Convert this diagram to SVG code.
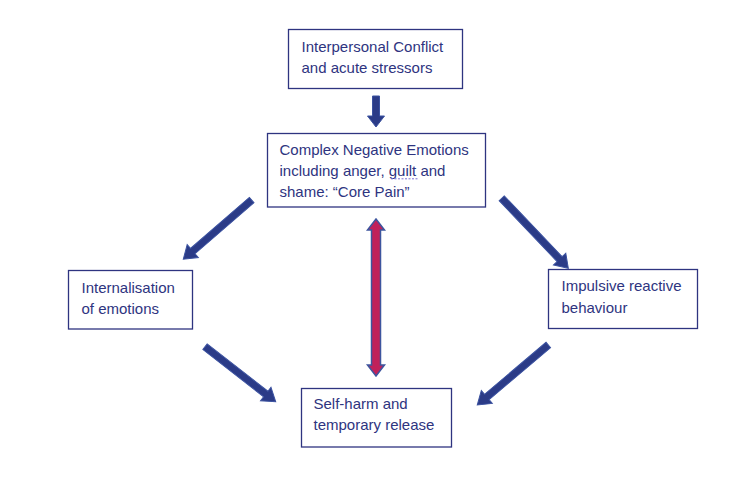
<svg xmlns="http://www.w3.org/2000/svg" width="755" height="486" viewBox="0 0 755 486">
<style>
  .box { fill: #ffffff; stroke: #2e3480; stroke-width: 1.3; }
  .lbl { font-family: "Liberation Sans", Arial, sans-serif; font-size: 15px; fill: #2e3480; }
  .arr { fill: #2b3b87; stroke: #3b52a0; stroke-width: 1; stroke-linejoin: miter; }
  .dbl { fill: #c0215a; stroke: #3d559e; stroke-width: 1.5; }
</style>
<rect width="755" height="486" fill="#ffffff"/>
<g id="connectors">
  <path class="arr" d="M372.5,96 H379.5 V116 H384.5 L376,127 L367.5,116 H372.5 Z"/>
  <path class="arr" transform="translate(251.7,200) rotate(139.1)" d="M0,-3.5 H78 V-8.5 L90.5,0 L78,8.5 V3.5 H0 Z"/>
  <path class="arr" transform="translate(501.7,198.3) rotate(46.4)" d="M0,-3.5 H84 V-8.5 L96.6,0 L84,8.5 V3.5 H0 Z"/>
  <path class="arr" transform="translate(205,346.7) rotate(37.9)" d="M0,-3.5 H77 V-8.5 L89.6,0 L77,8.5 V3.5 H0 Z"/>
  <path class="arr" transform="translate(548.3,345) rotate(139.8)" d="M0,-3.5 H80.5 V-8.5 L93,0 L80.5,8.5 V3.5 H0 Z"/>
  <path class="dbl" d="M376,219 L384.5,230 L380.5,230 L380.5,365 L384.5,365 L376,376 L367.5,365 L371.5,365 L371.5,230 L367.5,230 Z"/>
</g>
<g id="node-conflict">
  <rect class="box" x="288.5" y="29.5" width="174" height="59"/>
  <text class="lbl" x="301.5" y="52">Interpersonal Conflict</text>
  <text class="lbl" x="301.5" y="73">and acute stressors</text>
</g>
<g id="node-core-pain">
  <rect class="box" x="267.5" y="133.5" width="218" height="73.5"/>
  <text class="lbl" x="279.5" y="155">Complex Negative Emotions</text>
  <text class="lbl" x="279.5" y="175.5">including anger, guilt and</text>
  <text class="lbl" x="279.5" y="196.5">shame: “Core Pain”</text>
  <line x1="391" y1="178.8" x2="419" y2="178.8" stroke="#7b6fd6" stroke-width="1" stroke-dasharray="2,1.5"/>
</g>
<g id="node-internalisation">
  <rect class="box" x="68.5" y="270.5" width="124" height="58.5"/>
  <text class="lbl" x="81.5" y="292.5">Internalisation</text>
  <text class="lbl" x="81.5" y="313.5">of emotions</text>
</g>
<g id="node-impulsive">
  <rect class="box" x="548.5" y="269.5" width="149" height="59"/>
  <text class="lbl" x="561.5" y="291">Impulsive reactive</text>
  <text class="lbl" x="561.5" y="313">behaviour</text>
</g>
<g id="node-self-harm">
  <rect class="box" x="301.5" y="388.5" width="150" height="58.5"/>
  <text class="lbl" x="313.5" y="408.5">Self-harm and</text>
  <text class="lbl" x="313.5" y="430">temporary release</text>
</g>
</svg>
